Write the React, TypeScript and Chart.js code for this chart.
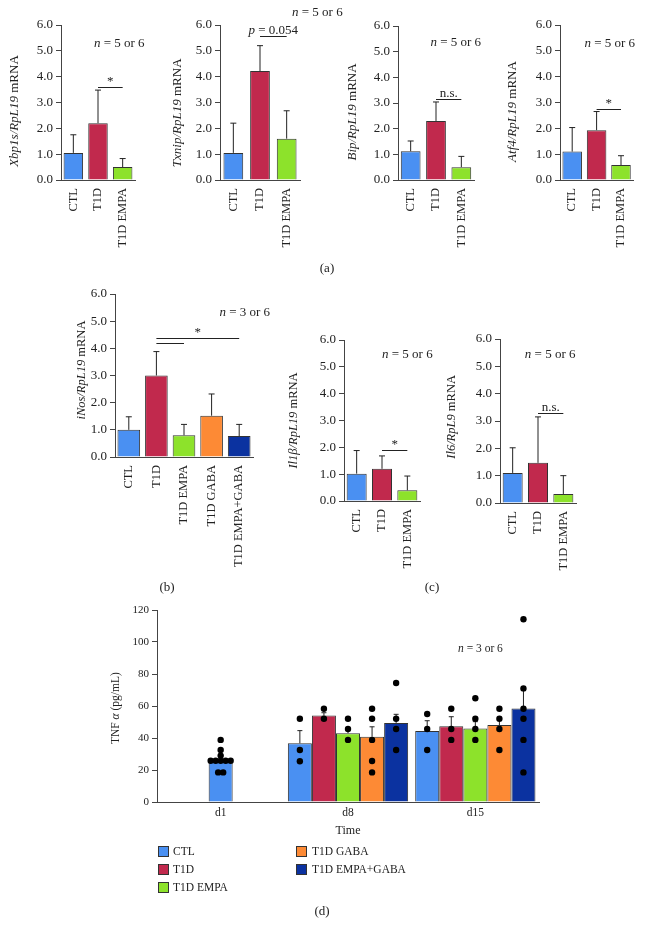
import React, { useEffect, useRef } from 'react';
import { Chart, registerables } from 'chart.js';
Chart.register(...registerables);

const FONT = '"Liberation Serif", "Times New Roman", serif';
const TEXT = '#222';
const AXIS = '#444';
const EDGE = '#333';

// ---------- data ----------
const groups3 = ['CTL', 'T1D', 'T1D EMPA'];
const groups5 = ['CTL', 'T1D', 'T1D EMPA', 'T1D GABA', 'T1D EMPA+GABA'];
const groupColors = ['#4a90f2', '#c1294d', '#8de22b', '#fd8a35', '#0b32a0'];
const mrnaTicks = [0, 1, 2, 3, 4, 5, 6];

const xbp1sMean = [1.05, 2.2, 0.5];
const xbp1sUpper = [1.75, 3.48, 0.83];
const txnipMean = [1.05, 4.22, 1.6];
const txnipUpper = [2.2, 5.2, 2.68];
const bipMean = [1.12, 2.3, 0.5];
const bipUpper = [1.52, 3.04, 0.92];
const atf4Mean = [1.1, 1.93, 0.58];
const atf4Upper = [2.03, 2.65, 0.94];
const inosMean = [1.0, 3.0, 0.8, 1.52, 0.77];
const inosUpper = [1.48, 3.88, 1.2, 2.32, 1.2];
const il1bMean = [1.02, 1.2, 0.4];
const il1bUpper = [1.88, 1.68, 0.93];
const il6Mean = [1.1, 1.47, 0.33];
const il6Upper = [2.02, 3.15, 1.0];

const timePoints = ['d1', 'd8', 'd15'];
const tnfTicks = [0, 20, 40, 60, 80, 100, 120];
const tnfCTL = [26.6, 36.7, 44.4];
const tnfT1D = [null, 54, 47.3];
const tnfEMPA = [null, 43, 46];
const tnfGABA = [null, 40.8, 48.1];
const tnfEMPAGABA = [null, 49.4, 58.5];
const tnfUpperCTL = [null, 44.6, 50.8];
const tnfUpperT1D = [null, 55.8, 53.3];
const tnfUpperEMPA = [null, 45.6, 50.2];
const tnfUpperGABA = [null, 47, 51.5];
const tnfUpperEMPAGABA = [null, 54.8, 70];
const tnfDotsCTL = [[38.8, 32.5, 29, 25.8, 25.8, 25.8, 25.8, 25.8, 18.5, 18.5], [52, 32.5, 25.5], [55, 45.6, 32.5]];
const tnfDotsT1D = [[], [58.3, 52], [58.3, 45.6, 38.8]];
const tnfDotsEMPA = [[], [52, 45.6, 38.8], [64.8, 52, 45.6, 38.8]];
const tnfDotsGABA = [[], [58.3, 52, 38.8, 25.6, 18.5], [58.3, 52, 45.6, 32.5]];
const tnfDotsEMPAGABA = [[], [74.4, 52, 45.6, 32.5], [114.2, 71, 58.3, 52, 38.8, 18.5]];

// ---------- helpers ----------
type Part = { t: string; i?: boolean };
type Sig = { from: number; to: number; at: number; text?: Part[] };

function drawRich(
  ctx: CanvasRenderingContext2D,
  parts: Part[],
  x: number,
  y: number,
  size: number,
  rotate = false,
  baseline: CanvasTextBaseline = 'middle'
) {
  ctx.save();
  ctx.translate(x, y);
  if (rotate) ctx.rotate(-Math.PI / 2);
  ctx.fillStyle = TEXT;
  ctx.textBaseline = baseline;
  ctx.textAlign = 'left';
  const fonts = parts.map((p) => `${p.i ? 'italic ' : ''}${size}px ${FONT}`);
  const widths = parts.map((p, k) => {
    ctx.font = fonts[k];
    return ctx.measureText(p.t).width;
  });
  const total = widths.reduce((a, b) => a + b, 0);
  let cx = -total / 2;
  parts.forEach((p, k) => {
    ctx.font = fonts[k];
    ctx.fillText(p.t, cx, 0);
    cx += widths[k];
  });
  ctx.restore();
}

function errBar(ctx: CanvasRenderingContext2D, x: number, y0: number, y1: number, cap: number) {
  ctx.save();
  ctx.strokeStyle = '#222';
  ctx.lineWidth = 1;
  ctx.beginPath();
  ctx.moveTo(x, y0);
  ctx.lineTo(x, y1);
  ctx.moveTo(x - cap, y1);
  ctx.lineTo(x + cap, y1);
  ctx.stroke();
  ctx.restore();
}

type PanelCfg = {
  area: [number, number, number, number]; // chart area L, T, R, B
  box: [number, number, number, number]; // canvas L, T, R, B
  xH: number;
  labels: string[];
  mean: number[];
  upper: number[];
  barPct: number;
  title: Part[];
  titleOff: number;
  titleAt: number;
  titleSize: number;
  nText: Part[];
  nAt: [number, number];
  sigs: Sig[];
};

const Y_W = 35;
const nText56: Part[] = [{ t: 'n', i: true }, { t: ' = 5 or 6' }];
const star: Part[] = [{ t: '*' }];
const ns: Part[] = [{ t: 'n.s.' }];

const panels: PanelCfg[] = [
  {
    area: [61, 25, 135, 180], box: [0, 0, 178, 266], xH: 84,
    labels: groups3, mean: xbp1sMean, upper: xbp1sUpper, barPct: 0.79,
    title: [{ t: 'Xbp1s/RpL19', i: true }, { t: ' mRNA' }], titleOff: 46, titleAt: 2.67, titleSize: 13,
    nText: nText56, nAt: [1.86, 5.27],
    sigs: [{ from: 1, to: 2, at: 3.6, text: star }],
  },
  {
    area: [220, 25, 300, 180], box: [160, 0, 345, 266], xH: 84,
    labels: groups3, mean: txnipMean, upper: txnipUpper, barPct: 0.74,
    title: [{ t: 'Txnip/RpL19', i: true }, { t: ' mRNA' }], titleOff: 42, titleAt: 2.6, titleSize: 13,
    nText: nText56, nAt: [3.15, 6.5],
    sigs: [{ from: 1, to: 2, at: 5.58, text: [{ t: 'p', i: true }, { t: ' = 0.054' }] }],
  },
  {
    area: [398, 26, 474, 180], box: [335, 0, 500, 266], xH: 84,
    labels: groups3, mean: bipMean, upper: bipUpper, barPct: 0.78,
    title: [{ t: 'Bip/RpL19', i: true }, { t: ' mRNA' }], titleOff: 45, titleAt: 2.65, titleSize: 13,
    nText: nText56, nAt: [1.78, 5.35],
    sigs: [{ from: 1, to: 2, at: 3.14, text: ns }],
  },
  {
    area: [560, 25, 634, 180], box: [500, 0, 646, 266], xH: 84,
    labels: groups3, mean: atf4Mean, upper: atf4Upper, barPct: 0.8,
    title: [{ t: 'Atf4/RpL19', i: true }, { t: ' mRNA' }], titleOff: 47, titleAt: 2.65, titleSize: 13,
    nText: nText56, nAt: [1.54, 5.3],
    sigs: [{ from: 1, to: 2, at: 2.75, text: star }],
  },
  {
    area: [115, 294, 253, 457], box: [55, 270, 290, 578], xH: 118,
    labels: groups5, mean: inosMean, upper: inosUpper, barPct: 0.82,
    title: [{ t: 'iNos/RpL19', i: true }, { t: ' mRNA' }], titleOff: 33, titleAt: 3.2, titleSize: 12.5,
    nText: [{ t: 'n', i: true }, { t: ' = 3 or 6' }], nAt: [4.2, 5.33],
    sigs: [
      { from: 1, to: 4, at: 4.38, text: star },
      { from: 1, to: 2, at: 4.19 },
    ],
  },
  {
    area: [344, 340, 420, 501], box: [280, 320, 460, 588], xH: 84,
    labels: groups3, mean: il1bMean, upper: il1bUpper, barPct: 0.79,
    title: [{ t: 'Il1β/RpL19', i: true }, { t: ' mRNA' }], titleOff: 50, titleAt: 3.0, titleSize: 12.5,
    nText: nText56, nAt: [2.0, 5.45],
    sigs: [{ from: 1, to: 2, at: 1.9, text: star }],
  },
  {
    area: [500, 339, 576, 503], box: [440, 320, 646, 590], xH: 84,
    labels: groups3, mean: il6Mean, upper: il6Upper, barPct: 0.79,
    title: [{ t: 'Il6/RpL9', i: true }, { t: ' mRNA' }], titleOff: 48, titleAt: 3.15, titleSize: 12.5,
    nText: nText56, nAt: [1.48, 5.42],
    sigs: [{ from: 1, to: 2, at: 3.3, text: ns }],
  },
];

function SmallPanel({ cfg }: { cfg: PanelCfg }) {
  const ref = useRef<HTMLCanvasElement>(null);
  const [bl, bt, br, bb] = cfg.box;
  const [L, T, R, B] = cfg.area;
  const W = br - bl;
  const H = bb - bt;
  useEffect(() => {
    if (!ref.current) return;
    const annot = {
      id: 'annot',
      afterDatasetsDraw(chart: any) {
        const ctx: CanvasRenderingContext2D = chart.ctx;
        const x = chart.scales.x;
        const y = chart.scales.y;
        const meta = chart.getDatasetMeta(0);
        cfg.upper.forEach((u, i) => {
          const bar = meta.data[i];
          if (!bar) return;
          errBar(ctx, bar.x, bar.y, y.getPixelForValue(u), 3);
        });
        const x0 = x.getPixelForValue(0);
        const step = x.getPixelForValue(1) - x0;
        const xAt = (idx: number) => x0 + idx * step;
        drawRich(ctx, cfg.nText, xAt(cfg.nAt[0]), y.getPixelForValue(cfg.nAt[1]), 13);
        cfg.sigs.forEach((s) => {
          const x1 = xAt(s.from);
          const x2 = xAt(s.to);
          const yy = Math.round(y.getPixelForValue(s.at)) + 0.5;
          ctx.save();
          ctx.strokeStyle = '#222';
          ctx.lineWidth = 1;
          ctx.beginPath();
          ctx.moveTo(x1, yy);
          ctx.lineTo(x2, yy);
          ctx.stroke();
          ctx.restore();
          if (s.text) drawRich(ctx, s.text, (x1 + x2) / 2, yy - 3, 13, false, 'alphabetic');
        });
        drawRich(ctx, cfg.title, chart.chartArea.left - cfg.titleOff, y.getPixelForValue(cfg.titleAt), cfg.titleSize, true);
      },
    };
    const chart = new Chart(ref.current, {
      type: 'bar',
      data: {
        labels: cfg.labels,
        datasets: [
          {
            data: cfg.mean,
            backgroundColor: groupColors.slice(0, cfg.labels.length),
            borderColor: EDGE,
            borderWidth: 1,
            barPercentage: cfg.barPct,
            categoryPercentage: 1,
          },
        ],
      },
      options: {
        responsive: false,
        animation: false,
        devicePixelRatio: 1,
        layout: {
          padding: {
            left: L - bl - Y_W,
            top: T - bt,
            right: br - R,
            bottom: bb - B - cfg.xH,
          },
        },
        plugins: { legend: { display: false }, tooltip: { enabled: false } },
        scales: {
          x: {
            offset: true,
            grid: { display: false, drawTicks: false, tickLength: 0 },
            border: { display: true, color: AXIS, width: 1 },
            ticks: {
              autoSkip: false,
              minRotation: 90,
              maxRotation: 90,
              padding: 8,
              color: TEXT,
              font: { family: FONT, size: 12.5 },
            },
            afterFit: (s: any) => {
              s.height = cfg.xH;
            },
          },
          y: {
            min: mrnaTicks[0],
            max: mrnaTicks[mrnaTicks.length - 1],
            ticks: {
              stepSize: mrnaTicks[1] - mrnaTicks[0],
              padding: 3,
              color: TEXT,
              font: { family: FONT, size: 13 },
              callback: (v: any) => Number(v).toFixed(1),
            },
            grid: { drawOnChartArea: false, drawTicks: true, tickLength: 5, color: AXIS },
            border: { display: true, color: AXIS, width: 1 },
            afterFit: (s: any) => {
              s.width = Y_W;
            },
          },
        },
      } as any,
      plugins: [annot],
    });
    return () => chart.destroy();
  }, []);
  return (
    <canvas
      ref={ref}
      width={W}
      height={H}
      style={{ position: 'absolute', left: bl, top: bt, width: W, height: H }}
    />
  );
}

// ---------- panel d ----------
const tnfSeries = [
  { name: groups5[0], mean: tnfCTL, upper: tnfUpperCTL, dots: tnfDotsCTL },
  { name: groups5[1], mean: tnfT1D, upper: tnfUpperT1D, dots: tnfDotsT1D },
  { name: groups5[2], mean: tnfEMPA, upper: tnfUpperEMPA, dots: tnfDotsEMPA },
  { name: groups5[3], mean: tnfGABA, upper: tnfUpperGABA, dots: tnfDotsGABA },
  { name: groups5[4], mean: tnfEMPAGABA, upper: tnfUpperEMPAGABA, dots: tnfDotsEMPAGABA },
];

function TnfPanel() {
  const ref = useRef<HTMLCanvasElement>(null);
  const box = [100, 595, 600, 845];
  const area = [157, 610, 539, 802];
  const YW = 30;
  const XH = 38;
  const W = box[2] - box[0];
  const H = box[3] - box[1];
  useEffect(() => {
    if (!ref.current) return;
    const annot = {
      id: 'annotD',
      afterDatasetsDraw(chart: any) {
        const ctx: CanvasRenderingContext2D = chart.ctx;
        const x = chart.scales.x;
        const y = chart.scales.y;
        tnfSeries.forEach((s, k) => {
          const meta = chart.getDatasetMeta(k);
          s.mean.forEach((m, i) => {
            if (m == null) return;
            const bar = meta.data[i];
            if (!bar) return;
            const u = s.upper[i];
            if (u != null) errBar(ctx, bar.x, bar.y, y.getPixelForValue(u), 2.5);
            const vals = s.dots[i];
            const counts: Record<string, number> = {};
            vals.forEach((v) => (counts[v] = (counts[v] || 0) + 1));
            const seen: Record<string, number> = {};
            vals.forEach((v) => {
              const c = counts[v];
              const j = seen[v] || 0;
              seen[v] = j + 1;
              const dx = (j - (c - 1) / 2) * 5;
              ctx.save();
              ctx.fillStyle = '#000';
              ctx.beginPath();
              ctx.arc(bar.x + dx, y.getPixelForValue(v), 3.2, 0, Math.PI * 2);
              ctx.fill();
              ctx.restore();
            });
          });
        });
        const x0 = x.getPixelForValue(0);
        const step = x.getPixelForValue(1) - x0;
        drawRich(ctx, [{ t: 'n', i: true }, { t: ' = 3 or 6' }], x0 + 2.04 * step, y.getPixelForValue(95.6), 11.5);
        drawRich(
          ctx,
          [{ t: 'TNF ' }, { t: 'α', i: true }, { t: ' (pg/mL)' }],
          chart.chartArea.left - 41,
          y.getPixelForValue(58.7),
          11.5,
          true
        );
      },
    };
    const chart = new Chart(ref.current, {
      type: 'bar',
      data: {
        labels: timePoints,
        datasets: tnfSeries.map((s, k) => ({
          label: s.name,
          data: s.mean,
          backgroundColor: groupColors[k],
          borderColor: EDGE,
          borderWidth: 1,
          categoryPercentage: 0.945,
          barPercentage: 1,
          maxBarThickness: 24,
          skipNull: true,
        })),
      },
      options: {
        responsive: false,
        animation: false,
        devicePixelRatio: 1,
        layout: {
          padding: {
            left: area[0] - box[0] - YW,
            top: area[1] - box[1],
            right: box[2] - area[2],
            bottom: box[3] - area[3] - XH,
          },
        },
        plugins: { legend: { display: false }, tooltip: { enabled: false } },
        scales: {
          x: {
            offset: true,
            grid: { display: false, drawTicks: false, tickLength: 0 },
            border: { display: true, color: AXIS, width: 1 },
            ticks: {
              autoSkip: false,
              minRotation: 0,
              maxRotation: 0,
              padding: 4,
              color: TEXT,
              font: { family: FONT, size: 11.5 },
            },
            title: {
              display: true,
              text: 'Time',
              color: TEXT,
              font: { family: FONT, size: 12 },
              padding: { top: 0, bottom: 2 },
            },
            afterFit: (s: any) => {
              s.height = XH;
            },
          },
          y: {
            min: tnfTicks[0],
            max: tnfTicks[tnfTicks.length - 1],
            ticks: {
              stepSize: tnfTicks[1] - tnfTicks[0],
              padding: 3,
              color: TEXT,
              font: { family: FONT, size: 11 },
            },
            grid: { drawOnChartArea: false, drawTicks: true, tickLength: 5, color: AXIS },
            border: { display: true, color: AXIS, width: 1 },
            afterFit: (s: any) => {
              s.width = YW;
            },
          },
        },
      } as any,
      plugins: [annot],
    });
    return () => chart.destroy();
  }, []);
  return (
    <canvas
      ref={ref}
      width={W}
      height={H}
      style={{ position: 'absolute', left: box[0], top: box[1], width: W, height: H }}
    />
  );
}

const panelTags = [
  { t: '(a)', x: 327, y: 268 },
  { t: '(b)', x: 167, y: 587 },
  { t: '(c)', x: 432, y: 587 },
  { t: '(d)', x: 322, y: 911 },
];

export default function App() {
  return (
    <div
      style={{
        position: 'absolute',
        left: 0,
        top: 0,
        width: 646,
        height: 937,
        background: '#fff',
        overflow: 'hidden',
        fontFamily: FONT,
        color: TEXT,
      }}
    >
      {panels.map((p, k) => (
        <SmallPanel key={k} cfg={p} />
      ))}
      <TnfPanel />
      {tnfSeries.map((s, k) => {
        const col = k < 3 ? 0 : 1;
        const row = k < 3 ? k : k - 3;
        const left = col === 0 ? 158 : 296;
        const top = 851 + row * 18;
        return (
          <div
            key={s.name}
            style={{ position: 'absolute', left, top: top - 8, height: 16, display: 'flex', alignItems: 'center', fontSize: 11.5, whiteSpace: 'nowrap' }}
          >
            <span
              style={{
                display: 'inline-block',
                width: 9,
                height: 9,
                background: groupColors[k],
                border: `1px solid ${EDGE}`,
                marginRight: col === 0 ? 4 : 5,
              }}
            />
            <span>{s.name}</span>
          </div>
        );
      })}
      {panelTags.map((p) => (
        <div
          key={p.t}
          style={{
            position: 'absolute',
            left: p.x - 20,
            top: p.y - 9,
            width: 40,
            height: 18,
            lineHeight: '18px',
            textAlign: 'center',
            fontSize: 13,
          }}
        >
          {p.t}
        </div>
      ))}
    </div>
  );
}
